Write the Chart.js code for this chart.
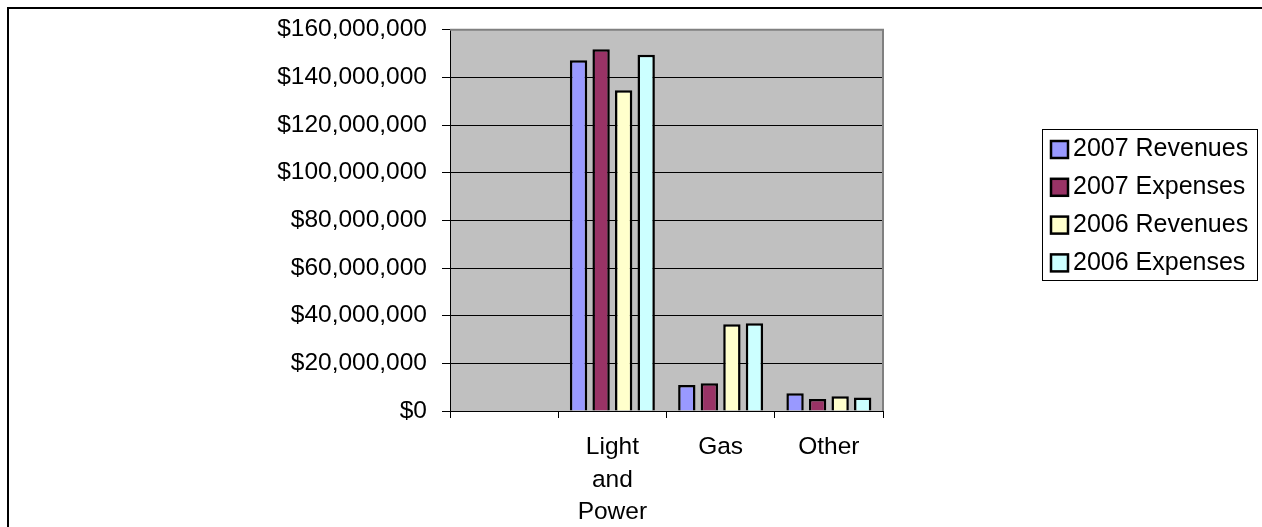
<!DOCTYPE html>
<html><head><meta charset="utf-8">
<script src="https://cdn.jsdelivr.net/npm/chart.js@4/dist/chart.umd.min.js"></script>
<style>html,body{margin:0;padding:0;background:#fff}#wrap{width:1262px;height:527px;position:relative}canvas{display:block}</style>
</head><body><div id="wrap"><canvas id="c" width="1262" height="527"></canvas></div>
<script>
const categories = ["", ["Light", "and", "Power"], "Gas", "Other"];
const seriesNames = ["2007 Revenues", "2007 Expenses", "2006 Revenues", "2006 Expenses"];
const rev2007 = [null, 147200000, 10900000, 7400000];
const exp2007 = [null, 151800000, 11600000, 5000000];
const rev2006 = [null, 134600000, 36400000, 6200000];
const exp2006 = [null, 149500000, 36800000, 5700000];
const yTickValues = [0, 20000000, 40000000, 60000000, 80000000, 100000000, 120000000, 140000000, 160000000];
const seriesColors = ["#9999FF", "#993366", "#FFFFCC", "#CCFFFF"];

const FONT = "'Liberation Sans', Arial, sans-serif";
const seriesValues = [rev2007, exp2007, rev2006, exp2006];

const plotBg = {
  id: 'plotBg',
  beforeDraw(chart) {
    const {ctx, chartArea: a} = chart;
    ctx.save();
    ctx.fillStyle = '#C0C0C0';
    ctx.fillRect(a.left, a.top, a.right - a.left, a.bottom - a.top);
    ctx.strokeStyle = '#000';
    ctx.lineWidth = 2;
    ctx.beginPath();
    ctx.moveTo(8, 540); ctx.lineTo(8, 8); ctx.lineTo(1270, 8);
    ctx.stroke();
    ctx.restore();
  },
  afterDraw(chart) {
    const {ctx, chartArea: a} = chart;
    ctx.save();
    ctx.strokeStyle = '#808080';
    ctx.lineWidth = 2;
    ctx.beginPath();
    ctx.moveTo(a.left, a.top); ctx.lineTo(a.right, a.top); ctx.lineTo(a.right, a.bottom);
    ctx.stroke();
    const lx = 1042.5, ly = 129.5, lw = 215, lh = 151;
    ctx.strokeStyle = '#000';
    ctx.lineWidth = 1;
    ctx.strokeRect(lx, ly, lw, lh);
    ctx.font = '25px ' + FONT;
    ctx.textBaseline = 'middle';
    ctx.textAlign = 'left';
    chart.data.datasets.forEach((ds, i) => {
      const cy = 149.5 + i * 37.8;
      ctx.fillStyle = ds.backgroundColor;
      ctx.fillRect(1051, cy - 8.5, 17, 17);
      ctx.lineWidth = 2.5;
      ctx.strokeStyle = '#000';
      ctx.strokeRect(1051, cy - 8.5, 17, 17);
      ctx.fillStyle = '#000';
      ctx.fillText(ds.label, 1073, cy);
    });
    ctx.restore();
  }
};

new Chart(document.getElementById('c'), {
  type: 'bar',
  data: {
    labels: categories,
    datasets: seriesNames.map((name, i) => ({
      label: name,
      data: seriesValues[i],
      backgroundColor: seriesColors[i],
      borderColor: '#000',
      borderWidth: 2.5,
      categoryPercentage: 0.833,
      barPercentage: 0.77
    }))
  },
  options: {
    responsive: false,
    animation: false,
    devicePixelRatio: 1,
    layout: {padding: {left: 0, top: 29.5, right: 379, bottom: 0}},
    plugins: {legend: {display: false}, tooltip: {enabled: false}},
    scales: {
      x: {
        grid: {display: true, drawOnChartArea: false, drawTicks: true, tickLength: 7, color: '#000', offset: true},
        border: {display: true, color: '#000', width: 1},
        ticks: {color: '#000', font: {family: FONT, size: 24.5, lineHeight: 1.33}, padding: 13, maxRotation: 0, autoSkip: false},
        afterFit(scale) { scale.height = 116; }
      },
      y: {
        min: 0, max: 160000000,
        afterBuildTicks(scale) { scale.ticks = yTickValues.map(v => ({value: v})); },
        grid: {
          color: (c) => (c.tick && c.tick.value === 160000000) ? '#808080' : '#000',
          tickColor: '#000', tickLength: 8, lineWidth: 1
        },
        border: {display: true, color: '#000', width: 1},
        ticks: {
          color: '#000', font: {family: FONT, size: 24.5}, padding: 15,
          callback: (v) => '$' + Number(v).toLocaleString('en-US')
        },
        afterFit(scale) { scale.width = 450; }
      }
    }
  },
  plugins: [plotBg]
});
</script>
</body></html>
